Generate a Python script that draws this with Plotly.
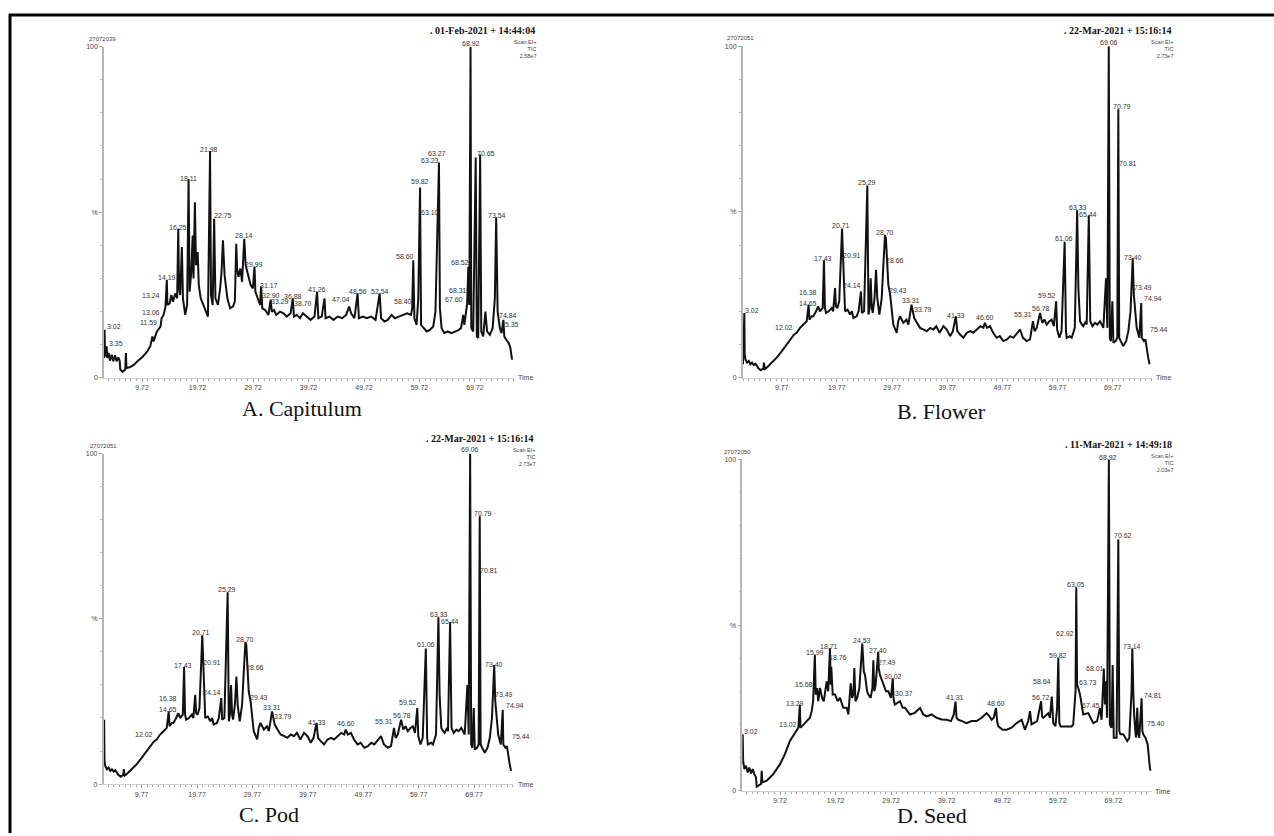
import plotly.graph_objects as go

W, H = 1274, 836

# ---------------- data: (retention time [min], relative intensity [%]) ----------------
A_TRACE = [
    (2.90, 6), (2.97, 14.5), (3.05, 8), (3.2, 6.5), (3.35, 9.5), (3.45, 6), (3.7, 7.5), (3.95, 5.2),
    (4.25, 7), (4.55, 5), (4.85, 6.8), (5.15, 5), (5.45, 6.2), (5.7, 5.2), (5.8, 2.5), (6.2, 1.8),
    (6.7, 2.5), (6.82, 7.5), (6.92, 3), (7.5, 3.2), (8.3, 4), (9.0, 5.2), (9.8, 6.3), (10.6, 7.8),
    (11.2, 9.5), (11.59, 12.5), (11.8, 11), (12.4, 14), (13.06, 15.5), (13.24, 18), (13.6, 19),
    (13.95, 21.5), (14.19, 29.5), (14.3, 22), (14.7, 22.5), (15.0, 25), (15.3, 23), (15.7, 25.5),
    (16.05, 24), (16.25, 45), (16.4, 27), (16.6, 25), (16.9, 39.5), (17.1, 24), (17.5, 19),
    (17.85, 22), (18.11, 60), (18.3, 26), (18.6, 32), (18.85, 43), (19.0, 30), (19.25, 53),
    (19.45, 34), (19.75, 38), (19.95, 28), (20.3, 24), (20.8, 22), (21.2, 20), (21.6, 18.5),
    (21.98, 68.5), (22.15, 25), (22.45, 22), (22.72, 48), (22.95, 24), (23.4, 22), (23.8, 27),
    (24.05, 32), (24.3, 41.5), (24.6, 31), (25.1, 24), (25.6, 21), (26.1, 21.5), (26.45, 23),
    (26.7, 40.5), (26.85, 33), (27.1, 30.5), (27.45, 33), (27.75, 29), (28.14, 42), (28.4, 34),
    (28.8, 31), (29.3, 28), (29.7, 27), (29.99, 33.5), (30.15, 26), (30.6, 24), (31.0, 22),
    (31.17, 27.6), (31.4, 21), (31.9, 20.5), (32.5, 19), (32.9, 23.6), (33.1, 20), (33.5, 20.5),
    (33.9, 19), (34.6, 20), (35.2, 19.5), (35.8, 18.5), (36.5, 19.5), (36.88, 24), (37.1, 18.5),
    (37.6, 19), (38.2, 18), (38.7, 19.5), (39.4, 18.5), (40.1, 17.5), (40.8, 18.5), (41.26, 26),
    (41.5, 18), (42.1, 18.5), (42.6, 24), (42.8, 18), (43.5, 18.5), (44.2, 17.5), (45.0, 18.5),
    (45.8, 18), (46.5, 19), (47.04, 21.5), (47.4, 19.5), (48.0, 18), (48.56, 25.5), (48.8, 18),
    (49.5, 18.5), (50.2, 18), (51.0, 18.5), (51.8, 17.5), (52.54, 25.5), (52.8, 18), (53.4, 17),
    (54.0, 17.5), (54.7, 19), (55.3, 18), (56.0, 18.5), (56.8, 19), (57.5, 19.5), (58.2, 19),
    (58.40, 21), (58.60, 35.5), (58.8, 18), (59.2, 16), (59.5, 24), (59.82, 57.5), (60.0, 16),
    (60.5, 15), (61.0, 14), (61.6, 14.5), (62.2, 15.5), (62.6, 20), (63.1, 50), (63.23, 65),
    (63.4, 21), (63.7, 15), (64.2, 13.5), (64.8, 14), (65.5, 13.5), (66.2, 14), (66.8, 14.5),
    (67.2, 15), (67.6, 19), (67.8, 16), (68.1, 20), (68.31, 22.5), (68.52, 33.5), (68.7, 22),
    (68.92, 100), (69.05, 15), (69.4, 14), (69.85, 66.5), (70.05, 12.5), (70.3, 12), (70.65, 67.4),
    (70.85, 14), (71.2, 12.5), (71.6, 20), (71.9, 14), (72.4, 13), (72.9, 15), (73.3, 24),
    (73.54, 48.5), (73.8, 20), (74.2, 15), (74.5, 13.5), (74.84, 17.5), (75.0, 12.5), (75.35, 11.5),
    (75.8, 10.5), (76.1, 9), (76.3, 6.5), (76.4, 5.5),
]

# Flower and Pod show the same run (22-Mar-2021 15:16:14)
BC_TRACE = [
    (2.75, 4), (3.0, 19.5), (3.06, 7), (3.2, 5.5), (3.5, 4.5), (3.8, 5), (4.1, 4), (4.4, 4.5),
    (4.7, 3.8), (5.0, 4.2), (5.3, 3.5), (5.55, 2.8), (6.0, 2.2), (6.45, 2.8), (6.55, 4.5),
    (6.7, 2.6), (7.05, 3), (7.9, 4.5), (8.86, 6), (9.8, 8), (10.68, 10), (11.3, 11.5), (12.02, 13),
    (12.5, 13.5), (13.09, 15), (13.7, 16), (14.3, 17), (14.65, 22), (14.8, 17.5), (15.2, 18.5),
    (15.51, 18.5), (16.0, 20), (16.38, 21.5), (16.7, 20), (17.2, 21), (17.43, 35.4), (17.6, 21),
    (17.81, 19.5), (18.3, 20), (18.83, 21), (19.1, 20), (19.44, 27), (19.6, 21.5), (19.86, 21),
    (20.2, 23), (20.71, 45), (20.91, 36), (21.1, 24), (21.25, 20), (21.7, 20.5), (22.16, 19),
    (22.5, 20), (22.76, 18), (23.36, 18.5), (23.7, 20), (24.14, 26), (24.3, 19.5), (24.7, 20),
    (25.29, 58), (25.5, 19), (25.7, 21), (25.9, 30), (26.1, 21), (26.27, 19.5), (26.6, 24),
    (26.87, 32.5), (27.1, 24), (27.47, 19), (27.9, 24), (28.2, 34), (28.5, 43), (28.66, 42),
    (28.9, 35), (29.1, 28), (29.43, 25), (30.0, 16), (30.62, 13.5), (30.9, 17), (31.22, 18.5),
    (31.82, 16.5), (32.4, 17.5), (32.73, 16), (33.31, 22), (33.79, 18), (34.3, 16.5), (34.85, 15),
    (35.5, 14.5), (36.06, 14), (36.7, 15), (37.26, 14.5), (37.8, 15.5), (38.4, 13.5), (39.08, 15.5),
    (39.7, 14.5), (40.29, 12.5), (40.8, 14), (41.33, 18.5), (41.6, 14), (42.1, 13), (42.7, 12),
    (43.3, 13.5), (44.0, 14), (44.5, 13.5), (45.2, 14.5), (45.8, 15.5), (46.33, 15), (46.6, 16.5),
    (47.0, 15), (47.53, 15.5), (48.1, 13.5), (48.74, 12), (49.3, 12.5), (49.95, 11), (50.6, 11.5),
    (51.2, 12.5), (51.76, 12), (52.3, 13), (52.97, 14.5), (53.5, 12), (54.18, 11), (54.78, 11.5),
    (55.31, 17), (55.6, 14), (56.0, 15), (56.6, 19.5), (57.0, 16.5), (57.4, 17.5), (57.81, 16),
    (58.3, 17), (58.71, 17.5), (59.1, 15.5), (59.52, 23), (59.7, 14.5), (60.1, 12), (60.5, 14),
    (60.75, 25), (61.06, 41), (61.3, 14), (61.43, 12), (62.0, 12.5), (62.34, 12), (62.9, 15),
    (63.33, 50.5), (63.55, 27), (63.85, 17), (64.2, 16), (64.45, 15.5), (64.9, 17), (65.06, 16),
    (65.44, 49), (65.7, 17), (66.1, 15.5), (66.57, 16.5), (67.0, 16), (67.47, 17), (68.08, 15),
    (68.56, 30), (68.8, 15), (69.06, 100), (69.25, 12), (69.45, 11), (69.71, 23), (69.9, 10.5),
    (70.3, 11), (70.6, 12), (70.79, 81), (70.95, 12), (71.22, 11), (71.7, 9.5), (72.2, 11),
    (72.61, 14), (73.0, 20), (73.40, 36), (73.6, 25), (73.82, 21), (74.12, 15), (74.6, 12),
    (74.94, 22.5), (75.05, 12), (75.44, 11), (75.7, 11.5), (75.9, 9), (76.2, 6), (76.45, 4),
]

D_TRACE = [
    (2.94, 8), (3.0, 17), (3.08, 9), (3.3, 6.5), (3.6, 7.5), (3.9, 5.5), (4.2, 7), (4.5, 5.2),
    (4.8, 6.5), (5.1, 5), (5.4, 4), (5.52, 1.2), (5.9, 1.5), (6.3, 2), (6.42, 6), (6.55, 2.5),
    (7.32, 3), (8.5, 5), (9.72, 8), (10.6, 11), (11.5, 15), (12.4, 17.5), (13.02, 19), (13.29, 26),
    (13.4, 19), (14.0, 20), (14.5, 21), (15.1, 22), (15.42, 24), (15.68, 27), (15.99, 41),
    (16.15, 29), (16.4, 31), (16.6, 27), (16.92, 31), (17.3, 28), (17.6, 27), (18.12, 33),
    (18.4, 30), (18.71, 43), (18.85, 32), (18.95, 37.4), (19.2, 29), (19.62, 29), (20.1, 27),
    (20.52, 28), (21.1, 25), (21.72, 25), (22.02, 23), (22.44, 32.4), (22.7, 28), (22.92, 29),
    (23.1, 37), (23.3, 27), (23.6, 28), (24.0, 31), (24.53, 44.4), (24.8, 36), (25.02, 34.9),
    (25.4, 30), (25.62, 29), (26.04, 28), (26.35, 31), (26.52, 39.4), (26.7, 30), (26.94, 32),
    (27.40, 41.9), (27.49, 37), (27.72, 34.9), (28.32, 32.4), (28.8, 30), (29.22, 30), (29.7, 28),
    (30.02, 33.9), (30.15, 28), (30.37, 26), (31.32, 27), (31.8, 25), (32.22, 25), (33.12, 23),
    (34.0, 23.5), (34.92, 25), (35.5, 23), (36.12, 22.4), (37.0, 23), (37.92, 22), (38.8, 21.5),
    (39.72, 21.4), (40.5, 21), (41.0, 23), (41.31, 26.9), (41.5, 22), (41.82, 21.4), (42.5, 21),
    (43.32, 20.4), (44.2, 21), (45.12, 21), (46.0, 22), (46.92, 23.4), (47.4, 22.5), (47.82, 21.4),
    (48.2, 22), (48.6, 25), (48.8, 21), (49.02, 19.4), (49.8, 18.4), (50.52, 18.4), (51.4, 19),
    (52.32, 20.4), (53.22, 21.4), (53.82, 18.4), (54.4, 21), (54.72, 24), (55.0, 20), (55.32, 20.4),
    (56.0, 21), (56.72, 27), (56.9, 22.4), (57.11, 22), (58.01, 23.4), (58.3, 22), (58.64, 28.4),
    (58.91, 20.4), (59.3, 19.5), (59.6, 25), (59.82, 40.1), (60.0, 20.4), (60.23, 19.4),
    (61.31, 19.4), (62.21, 19.4), (62.5, 20), (62.92, 30), (63.05, 61.4), (63.2, 32), (63.41, 31),
    (63.73, 29), (64.31, 23), (65.21, 23.4), (66.11, 20.4), (66.8, 21), (67.31, 25), (67.45, 23),
    (67.61, 21.4), (68.01, 36.9), (68.2, 26), (68.39, 33), (68.6, 22), (68.92, 100), (69.1, 20),
    (69.4, 19), (69.6, 37.9), (69.8, 16), (70.31, 16), (70.62, 75.8), (70.8, 18), (71.0, 17),
    (71.51, 17), (72.23, 15), (72.6, 16), (73.0, 30), (73.14, 42.9), (73.35, 28), (73.5, 22),
    (73.79, 16), (74.03, 25), (74.2, 17), (74.39, 16), (74.81, 27.9), (74.95, 18), (75.11, 17),
    (75.5, 16), (75.9, 14), (76.1, 9), (76.3, 7), (76.42, 6),
]

# peak labels: (text, x [min], y [%], horizontal anchor)
A_LABELS = [
    ("3.02", 3.0, 15.6, "left"), ("3.35", 3.35, 10.3, "left"), ("11.59", 10.9, 16.6, "center"),
    ("13.06", 11.4, 19.8, "center"), ("13.24", 11.4, 24.8, "center"), ("14.19", 14.16, 30.2, "center"),
    ("16.25", 16.27, 45.5, "center"), ("18.11", 18.07, 60.3, "center"), ("21.98", 21.79, 69, "center"),
    ("22.75", 24.4, 49, "center"), ("28.14", 28.1, 43, "center"), ("29.99", 29.96, 34.2, "center"),
    ("31.17", 32.66, 28, "center"), ("32.90", 32.9, 25, "center"), ("33.29", 34.6, 23, "center"),
    ("36.88", 36.87, 24.7, "center"), ("38.70", 38.67, 22.5, "center"), ("41.26", 41.31, 26.7, "center"),
    ("47.04", 45.5, 23.7, "center"), ("48.56", 48.58, 26, "center"), ("52.54", 52.6, 26, "center"),
    ("58.40", 56.8, 23, "center"), ("58.60", 57.1, 36.5, "center"), ("59.82", 59.81, 59.3, "center"),
    ("63.23", 61.6, 65.7, "center"), ("63.27", 62.8, 67.7, "center"), ("63.10", 61.6, 50, "center"),
    ("68.52", 67.0, 34.8, "center"), ("68.31", 66.7, 26.3, "center"), ("67.60", 65.94, 23.8, "center"),
    ("68.92", 68.94, 101, "center"), ("70.65", 71.7, 67.7, "center"), ("73.54", 73.63, 49, "center"),
    ("74.84", 75.7, 18.9, "center"), ("75.35", 76.0, 16.2, "center"),
]

BC_LABELS = [
    ("3.02", 2.8, 20.2, "left"), ("12.02", 10.25, 15.0, "center"), ("14.65", 14.48, 22.5, "center"),
    ("16.38", 14.6, 25.8, "center"), ("17.43", 17.32, 35.9, "center"), ("20.71", 20.53, 45.9, "center"),
    ("20.91", 22.46, 36.9, "center"), ("24.14", 22.46, 27.8, "center"), ("25.29", 25.18, 58.9, "center"),
    ("28.70", 28.5, 43.7, "center"), ("28.66", 30.31, 35.4, "center"), ("29.43", 30.92, 26.2, "center"),
    ("33.31", 33.21, 23.2, "center"), ("33.79", 35.33, 20.6, "center"), ("41.33", 41.37, 18.7, "center"),
    ("46.60", 46.63, 18.2, "center"), ("55.31", 53.46, 19.0, "center"), ("56.78", 56.72, 20.8, "center"),
    ("59.52", 57.93, 24.7, "center"), ("61.06", 61.01, 42.1, "center"), ("63.33", 63.42, 51.2, "center"),
    ("65.44", 65.36, 49.3, "center"), ("69.06", 69.1, 101.1, "center"), ("70.79", 71.46, 81.9, "center"),
    ("70.81", 72.49, 64.7, "center"), ("73.40", 73.4, 36.3, "center"), ("73.49", 75.21, 27.2, "center"),
    ("74.94", 75.15, 23.8, "left"), ("75.44", 76.2, 14.4, "left"),
]

D_LABELS = [
    ("3.02", 2.95, 17.8, "left"), ("13.02", 11.22, 20.0, "center"), ("13.29", 12.42, 26.2, "center"),
    ("15.68", 14.04, 32.0, "center"), ("15.99", 16.02, 41.6, "center"), ("18.71", 18.54, 43.4, "center"),
    ("18.76", 20.22, 40.1, "center"), ("24.53", 24.54, 45.4, "center"), ("27.40", 27.42, 42.3, "center"),
    ("27.49", 28.92, 38.6, "center"), ("30.02", 30.0, 34.6, "center"), ("30.37", 32.04, 29.3, "center"),
    ("41.31", 41.22, 28.1, "center"), ("48.60", 48.53, 26.2, "center"), ("56.72", 56.63, 28.1, "center"),
    ("58.64", 56.81, 33.1, "center"), ("59.82", 59.81, 40.8, "center"), ("62.92", 61.01, 47.6, "center"),
    ("63.05", 62.99, 62.2, "center"), ("63.73", 65.21, 32.7, "center"), ("67.45", 65.69, 25.8, "center"),
    ("68.01", 66.41, 36.9, "center"), ("68.92", 68.81, 100.7, "center"), ("70.62", 71.39, 76.9, "center"),
    ("73.14", 73.0, 43.6, "center"), ("74.81", 74.81, 28.7, "left"), ("75.40", 75.4, 20.3, "left"),
]

CAPTIONS = ["A. Capitulum", "B. Flower", "C. Pod", "D. Seed"]
DATES = [". 01-Feb-2021 + 14:44:04", ". 22-Mar-2021 + 15:16:14",
         ". 22-Mar-2021 + 15:16:14", ". 11-Mar-2021 + 14:49:18"]
SCAN_IDS = ["27072039", "27072051", "27072051", "27072050"]
TIC_MAX = ["2.58e7", "2.73e7", "2.73e7", "2.03e7"]
TICK0 = [9.72, 9.77, 9.77, 9.72]

# ---------------- layout geometry (pixels) ----------------
PANELS = [
    dict(trace=A_TRACE, labels=A_LABELS, xr=[2.87, 76.75], xd=(104, 514), yd=(377, 43),
         cap=(302, 408), date=(537, 27), sid=(102, 35), time=(525, 377)),
    dict(trace=BC_TRACE, labels=BC_LABELS, xr=[2.70, 76.84], xd=(742.7, 1151.7), yd=(376.7, 42.7),
         cap=(941, 411), date=(1174, 27), sid=(740, 34), time=(1163, 377)),
    dict(trace=BC_TRACE, labels=BC_LABELS, xr=[2.90, 76.85], xd=(103.6, 513.3), yd=(786.7, 453.3),
         cap=(269, 817), date=(536, 438), sid=(103, 446), time=(525, 787)),
    dict(trace=D_TRACE, labels=D_LABELS, xr=[2.93, 76.63], xd=(742.3, 1151.7), yd=(793.3, 459.3),
         cap=(932, 818), date=(1174, 444), sid=(737, 452), time=(1162, 794)),
]

SANS = "Liberation Sans, Arial, sans-serif"
SERIF = "Liberation Serif, Times New Roman, serif"


def px(x):
    return x / W


def py(y):
    return 1 - y / H


fig = go.Figure()
annotations = []
layout = dict(width=W, height=H, margin=dict(l=0, r=0, t=0, b=0),
              paper_bgcolor="white", plot_bgcolor="white", showlegend=False)

for i, p in enumerate(PANELS):
    n = "" if i == 0 else str(i + 1)
    ts = [pt[0] for pt in p["trace"]]
    vs = [pt[1] for pt in p["trace"]]
    fig.add_trace(go.Scatter(x=ts, y=vs, mode="lines", xaxis="x" + n, yaxis="y" + n,
                             line=dict(color="#111", width=2), hoverinfo="skip"))
    layout["xaxis" + n] = dict(
        domain=[px(p["xd"][0]), px(p["xd"][1])], range=p["xr"], anchor="y" + n,
        showline=True, linecolor="#cfcfcf", linewidth=1, showgrid=False, zeroline=False,
        tickmode="linear", tick0=TICK0[i], dtick=10, tickformat=".2f",
        ticks="outside", ticklen=3, tickcolor="#999", tickwidth=1,
        minor=dict(ticks="outside", ticklen=2, tickcolor="#aaa", tick0=TICK0[i], dtick=1),
        tickfont=dict(family=SANS, size=7, color="#444"), fixedrange=True)
    layout["yaxis" + n] = dict(
        domain=[py(p["yd"][0]), py(p["yd"][1])], range=[0, 100], anchor="x" + n,
        showline=True, linecolor="#b5b5b5", linewidth=1.5, showgrid=False, zeroline=False,
        tickmode="linear", tick0=0, dtick=50, labelalias={50: "%"},
        ticks="outside", ticklen=3, tickcolor="#aaa",
        minor=dict(ticks="outside", ticklen=2, tickcolor="#bbb", dtick=10),
        tickfont=dict(family=SANS, size=7, color="#444"), fixedrange=True)

    # peak labels
    for text, lx, ly, anc in p["labels"]:
        yc = min(ly, 99.9)
        annotations.append(dict(text=text, x=lx, y=yc, xref="x" + n, yref="y" + n,
                                xanchor=anc, yanchor="middle", showarrow=False,
                                yshift=(ly - yc) * 3.34,
                                font=dict(family=SANS, size=7, color="#333")))
    # header texts
    dx, dy = p["date"]
    annotations.append(dict(text="<b>" + DATES[i] + "</b>", x=px(dx), y=py(dy), xref="paper",
                            yref="paper", xanchor="right", yanchor="middle", showarrow=False,
                            font=dict(family=SERIF, size=10, color="#111")))
    annotations.append(dict(text="Scan EI+<br>TIC<br>" + TIC_MAX[i], x=px(dx), y=py(dy + 7.5),
                            xref="paper", yref="paper", xanchor="right", yanchor="top",
                            align="right", showarrow=False, borderpad=0,
                            font=dict(family=SANS, size=5.5, color="#444")))
    sx, sy = p["sid"]
    annotations.append(dict(text=SCAN_IDS[i], x=px(sx), y=py(sy), xref="paper", yref="paper",
                            xanchor="center", yanchor="middle", showarrow=False,
                            font=dict(family=SANS, size=6, color="#444")))
    tx, ty = p["time"]
    annotations.append(dict(text="Time", x=px(tx), y=py(ty), xref="paper", yref="paper",
                            xanchor="center", yanchor="middle", showarrow=False,
                            font=dict(family=SANS, size=7, color="#444")))
    cx, cy = p["cap"]
    annotations.append(dict(text=CAPTIONS[i], x=px(cx), y=py(cy), xref="paper", yref="paper",
                            xanchor="center", yanchor="middle", showarrow=False,
                            font=dict(family=SERIF, size=22, color="#111")))

layout["annotations"] = annotations
layout["shapes"] = [
    dict(type="line", xref="paper", yref="paper", x0=px(9), x1=1, y0=py(11), y1=py(11),
         line=dict(color="black", width=3)),
    dict(type="line", xref="paper", yref="paper", x0=px(10), x1=px(10), y0=py(10), y1=0,
         line=dict(color="black", width=3)),
]
fig.update_layout(**layout)
fig.write_html("out.html")
